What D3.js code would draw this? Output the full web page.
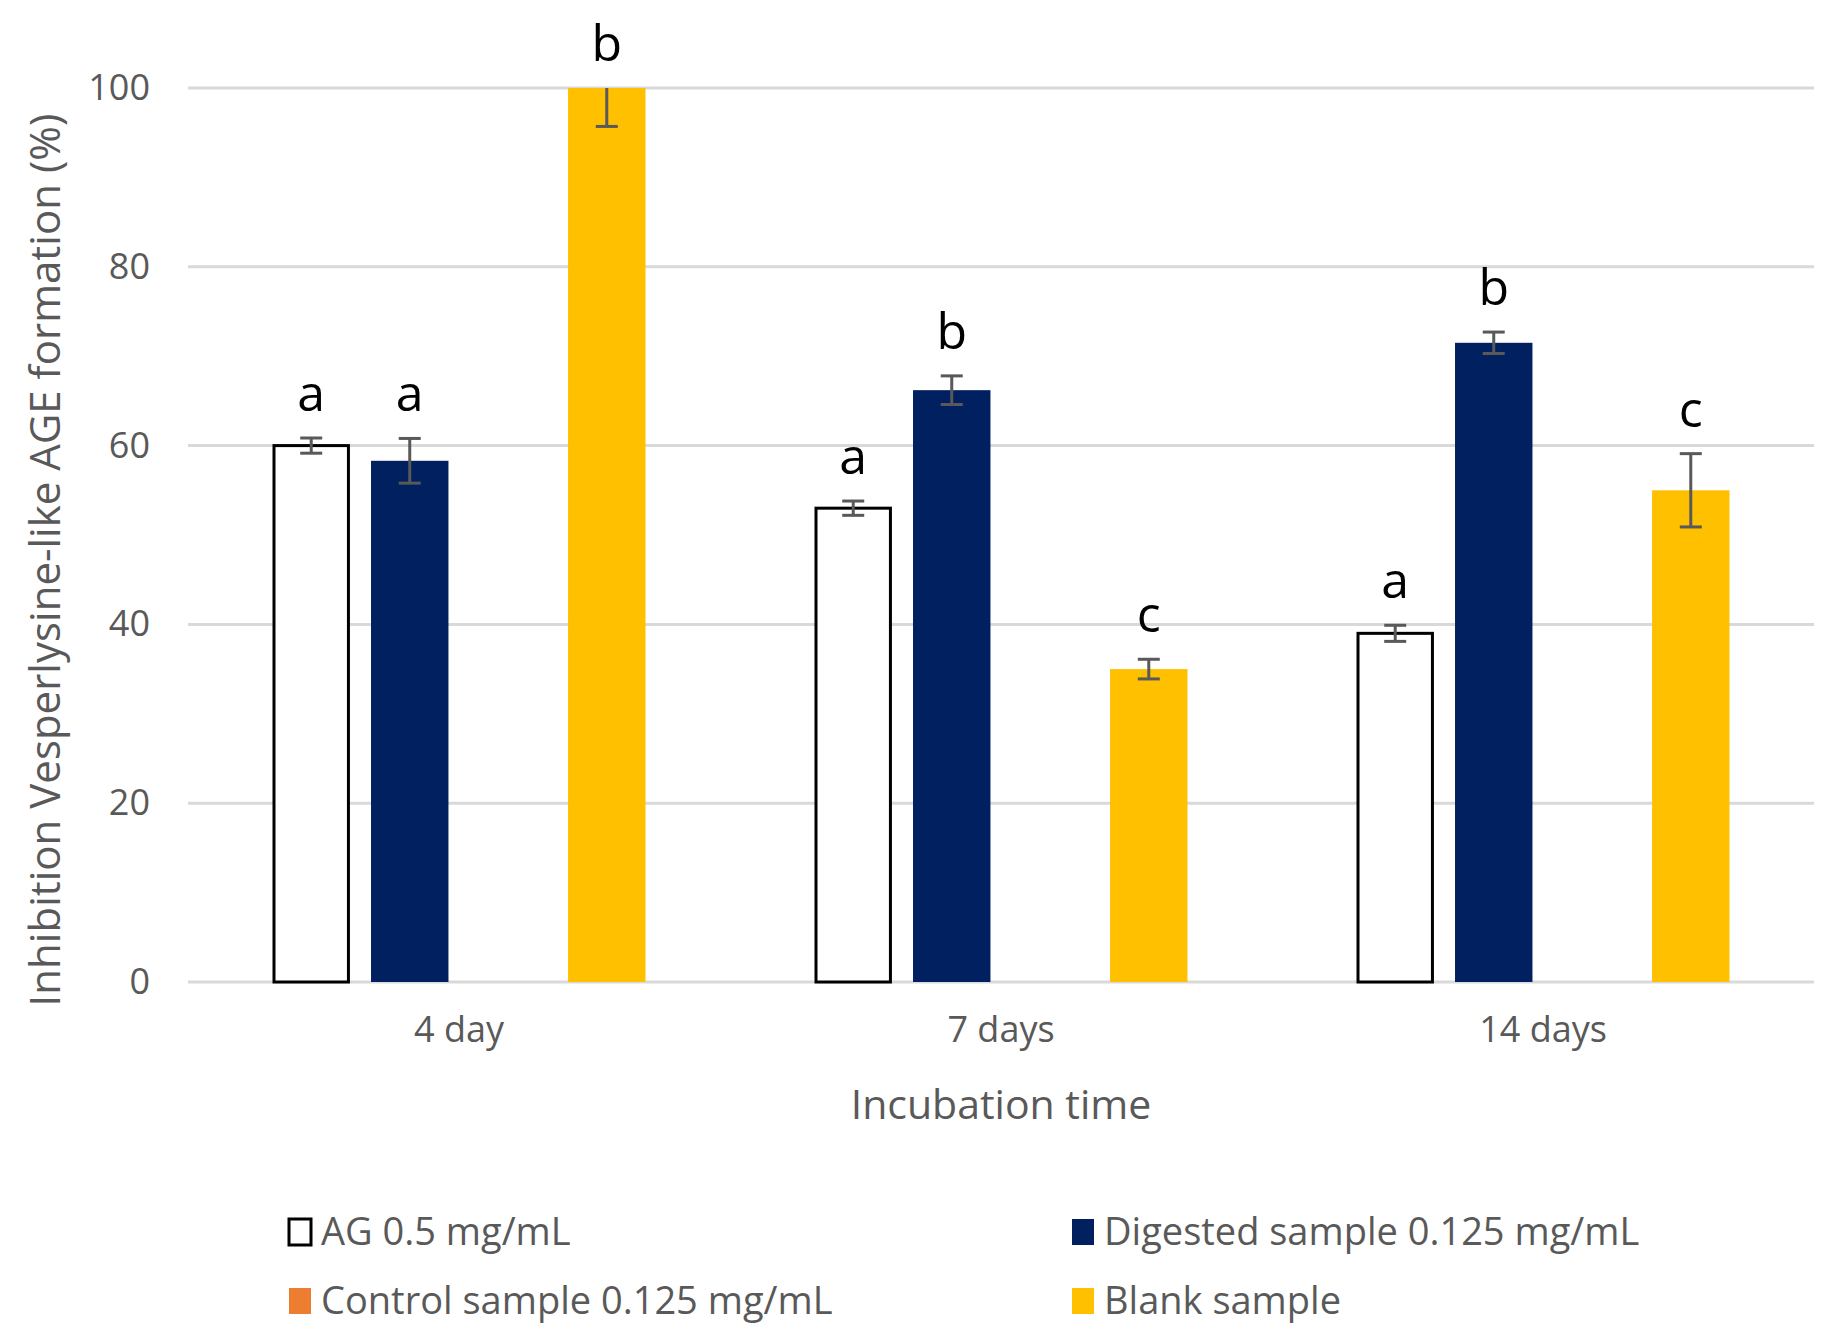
<!DOCTYPE html>
<html>
<head>
<meta charset="utf-8">
<script src="https://cdn.jsdelivr.net/npm/d3@7"></script>
<style>
  body { margin: 0; background: #fff; }
  text { font-family: "Open Sans", "Noto Sans", sans-serif; }
</style>
</head>
<body>
<div id="chart"></div>
<script>
/* DATA */
const categories = ["4 day", "7 days", "14 days"];
const seriesNames = ["AG 0.5 mg/mL", "Digested sample 0.125 mg/mL", "Control sample 0.125 mg/mL", "Blank sample"];
const seriesColors = ["#ffffff", "#002060", "#ED7D31", "#FFC000"];
// values per series, one per category (control sample has no bar)
const agValues = [60.0, 53.0, 39.0];
const agErrors = [0.85, 0.8, 0.9];
const digestedValues = [58.3, 66.2, 71.5];
const digestedErrors = [2.5, 1.6, 1.2];
const controlValues = [0, 0, 0];
const controlErrors = [0, 0, 0];
const blankValues = [100.0, 35.0, 55.0];
const blankErrors = [4.3, 1.1, 4.1];
const agLetters = ["a", "a", "a"];
const digestedLetters = ["a", "b", "b"];
const controlLetters = ["", "", ""];
const blankLetters = ["b", "c", "c"];
const yTicks = [0, 20, 40, 60, 80, 100];

const width = 1831, height = 1331;
const margin = { top: 88, left: 188, right: 1814, bottom: 982 };

const values = [agValues, digestedValues, controlValues, blankValues];
const errors = [agErrors, digestedErrors, controlErrors, blankErrors];
const letters = [agLetters, digestedLetters, controlLetters, blankLetters];

// flat table for the bars
const bars = [];
categories.forEach((c, ci) => {
  seriesNames.forEach((s, si) => {
    bars.push({ cat: c, series: s, si: si, value: values[si][ci], err: errors[si][ci], letter: letters[si][ci] });
  });
});

const svg = d3.select("#chart").append("svg")
  .attr("width", width)
  .attr("height", height);

const x0 = d3.scaleBand().domain(categories).range([margin.left, margin.right]).padding(0);
const groupW = 373;
const x1 = d3.scaleBand().domain(seriesNames)
  .range([(x0.bandwidth() - groupW) / 2, (x0.bandwidth() + groupW) / 2])
  .paddingInner(0.214).paddingOuter(0);
const y = d3.scaleLinear().domain([0, 100]).range([margin.bottom, margin.top]);

svg.append("clipPath").attr("id", "plotclip")
  .append("rect")
  .attr("x", margin.left).attr("y", margin.top)
  .attr("width", margin.right - margin.left).attr("height", margin.bottom - margin.top + 10);

// gridlines
svg.append("g")
  .selectAll("line")
  .data(yTicks)
  .join("line")
  .attr("x1", margin.left).attr("x2", margin.right)
  .attr("y1", d => y(d)).attr("y2", d => y(d))
  .attr("stroke", "#d9d9d9")
  .attr("stroke-width", 3);

// y axis labels
const yAxis = d3.axisLeft(y).tickValues(yTicks).tickSize(0).tickPadding(0);
const yg = svg.append("g")
  .attr("transform", `translate(150,0)`)
  .call(yAxis);
yg.select(".domain").remove();
yg.selectAll("text")
  .attr("fill", "#595959")
  .attr("font-size", 36)
  .attr("font-family", "Open Sans, sans-serif");

// x axis labels
const xAxis = d3.axisBottom(x0).tickSize(0).tickPadding(0);
const xg = svg.append("g")
  .attr("transform", `translate(0,1016)`)
  .call(xAxis);
xg.select(".domain").remove();
xg.selectAll("text")
  .attr("fill", "#595959")
  .attr("font-size", 36)
  .attr("font-family", "Open Sans, sans-serif");

// bars
const plot = svg.append("g").attr("clip-path", "url(#plotclip)");
plot.selectAll("rect.bar")
  .data(bars.filter(d => d.value > 0))
  .join("rect")
  .attr("class", "bar")
  .attr("x", d => x0(d.cat) + x1(d.series) + (d.si === 0 ? 1.5 : 0))
  .attr("width", d => x1.bandwidth() - (d.si === 0 ? 3 : 0))
  .attr("y", d => y(d.value))
  .attr("height", d => y(0) - y(d.value))
  .attr("fill", d => seriesColors[d.si])
  .attr("stroke", d => d.si === 0 ? "#000" : "none")
  .attr("stroke-width", 3);

// error bars
const eb = plot.selectAll("g.err")
  .data(bars.filter(d => d.err > 0))
  .join("g")
  .attr("class", "err")
  .attr("transform", d => `translate(${x0(d.cat) + x1(d.series) + x1.bandwidth() / 2},0)`);
eb.append("line")
  .attr("y1", d => y(d.value + d.err)).attr("y2", d => y(d.value - d.err))
  .attr("stroke", "#595959").attr("stroke-width", 3);
eb.append("line")
  .attr("x1", -11).attr("x2", 11)
  .attr("y1", d => y(d.value + d.err)).attr("y2", d => y(d.value + d.err))
  .attr("stroke", "#595959").attr("stroke-width", 3);
eb.append("line")
  .attr("x1", -11).attr("x2", 11)
  .attr("y1", d => y(d.value - d.err)).attr("y2", d => y(d.value - d.err))
  .attr("stroke", "#595959").attr("stroke-width", 3);

// significance letters
svg.selectAll("text.letter")
  .data(bars.filter(d => d.letter !== ""))
  .join("text")
  .attr("class", "letter")
  .attr("x", d => x0(d.cat) + x1(d.series) + x1.bandwidth() / 2)
  .attr("y", d => Math.max(y(Math.min(d.value + d.err, 100)), margin.top) - 27)
  .attr("text-anchor", "middle")
  .attr("font-family", "Liberation Sans, Arial, sans-serif")
  .attr("font-size", 50)
  .attr("fill", "#000")
  .text(d => d.letter);

// axis titles
svg.append("text")
  .attr("transform", `translate(60,${(margin.top + margin.bottom) / 2 + 25}) rotate(-90)`)
  .attr("text-anchor", "middle")
  .attr("fill", "#595959")
  .attr("font-size", 42)
  .text("Inhibition Vesperlysine-like AGE formation (%)");

svg.append("text")
  .attr("x", (margin.left + margin.right) / 2)
  .attr("y", 1119)
  .attr("text-anchor", "middle")
  .attr("fill", "#595959")
  .attr("font-size", 41)
  .text("Incubation time");

// legend
const legendPos = [[289, 1232], [1072, 1232], [289, 1301], [1072, 1301]];
const lg = svg.selectAll("g.legend")
  .data(seriesNames)
  .join("g")
  .attr("class", "legend")
  .attr("transform", (d, i) => `translate(${legendPos[i][0]},${legendPos[i][1]})`);
lg.append("rect")
  .attr("x", 0).attr("y", -13)
  .attr("width", 22).attr("height", 26)
  .attr("fill", (d, i) => seriesColors[i])
  .attr("stroke", (d, i) => i === 0 ? "#000" : "none")
  .attr("stroke-width", 3);
lg.append("text")
  .attr("x", 32).attr("y", 0)
  .attr("dy", "0.35em")
  .attr("fill", "#595959")
  .attr("font-size", 38)
  .text(d => d);
</script>
</body>
</html>
